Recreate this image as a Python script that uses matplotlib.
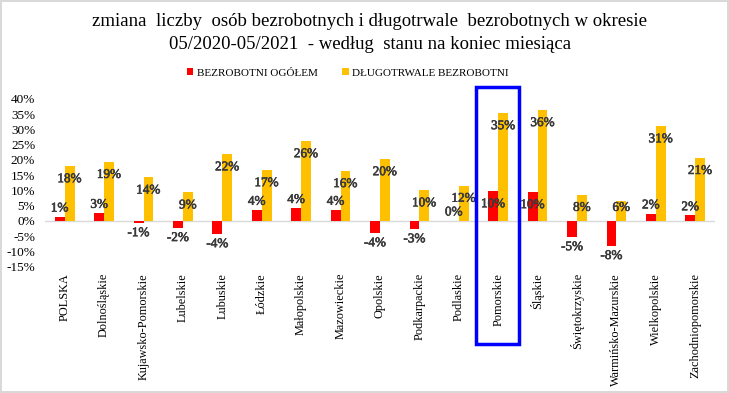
import matplotlib
matplotlib.use("Agg")
import matplotlib.pyplot as plt
import matplotlib.transforms as mtransforms
import matplotlib.patheffects as pe
from matplotlib.patches import Rectangle
import numpy as np

plt.rcParams['font.family'] = ['Liberation Serif', 'DejaVu Serif']

categories = ["POLSKA", "Dolnośląskie", "Kujawsko-Pomorskie", "Lubelskie", "Lubuskie",
              "Łódzkie", "Małopolskie", "Mazowieckie", "Opolskie", "Podkarpackie",
              "Podlaskie", "Pomorskie", "Śląskie", "Świętokrzyskie", "Warmińsko-Mazurskie",
              "Wielkopolskie", "Zachodniopomorskie"]
ogolem = [1.4, 2.6, -0.7, -2.3, -4.3, 3.6, 4.2, 3.6, -4.0, -2.7, 0.1, 9.8, 9.5, -5.3, -8.2, 2.4, 1.8]
dlugotrwale = [18.0, 19.4, 14.3, 9.4, 21.9, 16.7, 26.2, 16.4, 20.3, 10.1, 11.6, 35.4, 36.4, 8.4, 6.4, 31.1, 20.7]
yticks = [-15, -10, -5, 0, 5, 10, 15, 20, 25, 30, 35, 40]
legend_labels = ["BEZROBOTNI OGÓŁEM", "DŁUGOTRWALE BEZROBOTNI"]
title_lines = ["zmiana  liczby  osób bezrobotnych i długotrwale  bezrobotnych w okresie",
               "05/2020-05/2021  - według  stanu na koniec miesiąca"]
highlight = "Pomorskie"

RED = "#FF0000"
YEL = "#FFC000"
LBL = "#3a3a3a"

fig = plt.figure(figsize=(7.29, 3.93), dpi=100)
fig.patch.set_facecolor("white")
fig.patch.set_edgecolor("#d9d9d9")
fig.patch.set_linewidth(1.5)

ax = fig.add_axes([0.0617, 0.3214, 0.919, 0.4267])
x = np.arange(len(categories))
w = 0.25
ax.bar(x - w / 2, ogolem, width=w, color=RED, label=legend_labels[0], zorder=2)
ax.bar(x + w / 2, dlugotrwale, width=w, color=YEL, label=legend_labels[1], zorder=2)

ax.set_xlim(-0.5, len(categories) - 0.5)
ax.set_ylim(-15, 40)
ax.set_yticks(yticks)
ax.set_yticklabels([f"{t}%" for t in yticks], fontsize=9.5, family="Liberation Serif")
ax.set_xticks(x)
ax.set_xticklabels(categories, rotation=90, fontsize=8.8, va="top", ha="center")
ax.tick_params(axis="both", length=0)
ax.tick_params(axis="x", pad=4.5)
ax.tick_params(axis="y", pad=7)
for s in ax.spines.values():
    s.set_visible(False)
ax.axhline(0, color="#d9d9d9", lw=1, zorder=1)

effects = [pe.withStroke(linewidth=0.45, foreground=LBL)]
for xi, v in zip(x, ogolem):
    if v >= 5:
        y = v - 4.3
    elif v >= 0:
        y = v + 2.7
    else:
        y = v - 3.3
    ax.text(xi - w / 2, y, f"{v:.0f}%", ha="center", va="center", fontsize=9.5,
            family="Liberation Serif", color=LBL, zorder=3, path_effects=effects)
for xi, v in zip(x, dlugotrwale):
    y = max(v - 4.3, 4.3)
    ax.text(xi + w / 2, y, f"{v:.0f}%", ha="center", va="center", fontsize=9.5,
            family="Liberation Serif", color=LBL, zorder=3, path_effects=effects)

leg = fig.legend(loc="center", bbox_to_anchor=(0.477, 0.814), ncol=2, frameon=False,
                 fontsize=8, handlelength=0.6, handleheight=0.6, handletextpad=0.3,
                 columnspacing=2.2)

fig.text(0.507, 0.945, title_lines[0], ha="center", va="center", fontsize=13.5)
fig.text(0.507, 0.887, title_lines[1], ha="center", va="center", fontsize=13.5)

hi = categories.index(highlight)
trans = mtransforms.blended_transform_factory(ax.transData, fig.transFigure)
rect = Rectangle((hi - 0.57, 0.125), 1.1, 0.654, transform=trans, fill=False,
                 edgecolor="#0000FF", lw=2.5, clip_on=False, zorder=5)
fig.add_artist(rect)

fig.savefig("out.png", dpi=100)
